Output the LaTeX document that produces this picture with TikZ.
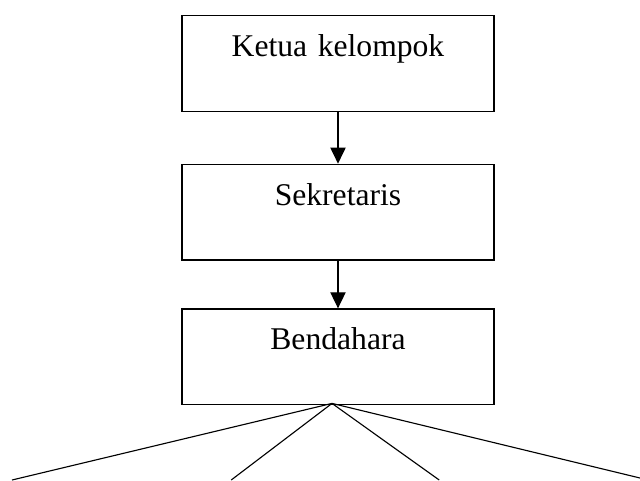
\documentclass[tikz,border=0pt]{standalone}
\usepackage{fontspec}
\setmainfont{Liberation Serif}
\usetikzlibrary{arrows.meta,positioning,calc}

\begin{document}
\begin{tikzpicture}[font=\fontsize{22.5}{27}\selectfont,
    jabatan/.style={draw, line width=0.9pt, inner sep=0pt, text width=7.8cm,
      align=center, text height=1.02cm, text depth=1.375cm},
    panah/.style={-{Triangle[length=0.4cm, width=0.38cm]}, line width=0.9pt},
    cabang/.style={line width=0.8pt}]
  \useasboundingbox (0,0) rectangle (16,-12);

  % Struktur kelompok
  \node[jabatan, anchor=north] (ketua) at (8.45,-0.375) {Ketua kelompok};
  \node[jabatan, below=1.29cm of ketua] (sekretaris) {Sekretaris};
  \node[jabatan, below=1.19cm of sekretaris] (bendahara) {Bendahara};

  \draw[panah] (ketua) -- (sekretaris);
  \draw[panah] (sekretaris) -- (bendahara);

  % Cabang di bawah bendahara
  \coordinate (pusat) at ($(bendahara.south)+(-0.15,0.05)$);
  \coordinate (ujung1) at (0.3,-12);
  \coordinate (ujung2) at (5.78,-12);
  \coordinate (ujung3) at (10.98,-12);
  \coordinate (ujung4) at (16,-11.95);
  \foreach \i in {1,...,4}
    \draw[cabang] (pusat) -- (ujung\i);
\end{tikzpicture}
\end{document}
